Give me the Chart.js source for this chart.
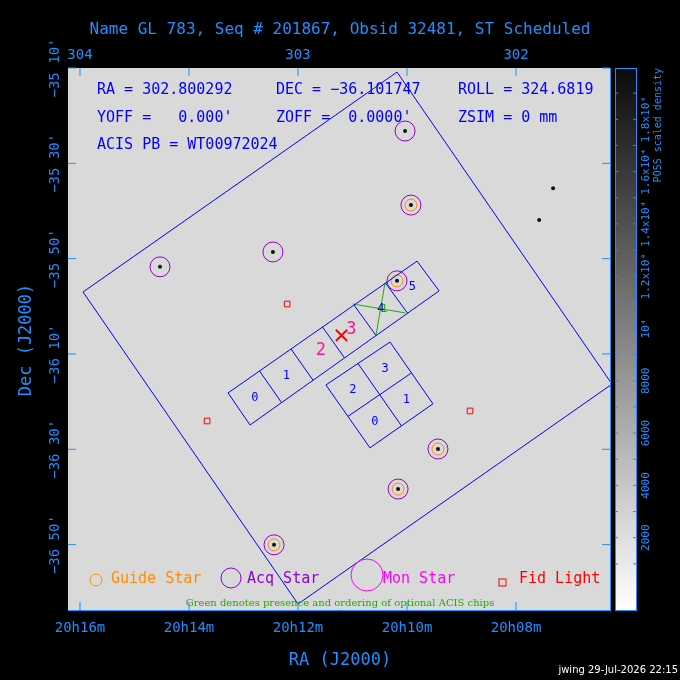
<!DOCTYPE html>
<html>
<head>
<meta charset="utf-8">
<script src="https://cdn.jsdelivr.net/npm/chart.js@4/dist/chart.umd.min.js"></script>
<style>
  body { margin: 0; background: #000; }
  canvas { display: block; }
</style>
</head>
<body>
<canvas id="sky" width="680" height="680"></canvas>
<script>
// field geometry, RA/Dec in degrees
var fieldSquare = [[303.986, -35.950], [302.546, -35.181], [301.560, -36.272], [303.000, -37.041]];
var acisS = [[303.321, -36.303], [302.454, -35.842], [302.353, -35.946], [303.220, -36.415]];
var acisI = [[302.578, -36.125], [302.381, -36.341], [302.670, -36.495], [302.872, -36.275]];
var optionalLines = [
    [[302.748, -35.992], [302.509, -36.023]],
    [[302.601, -35.918], [302.642, -36.100]]
];
var guideStars = [[302.482, -35.646], [302.546, -35.911], [302.358, -36.499], [302.541, -36.639], [303.110, -36.834]];
var acqStars = [[302.509, -35.387], [302.482, -35.646], [303.115, -35.810], [303.633, -35.862], [302.546, -35.911],
                [302.358, -36.499], [302.541, -36.639], [303.110, -36.834]];
var brightStars = [[301.830, -35.587], [301.894, -35.698]];
var fidLights = [[303.050, -35.992], [303.417, -36.401], [302.211, -36.366]];
var target = [302.800292, -36.101747];

var raTopTicks = [304, 303, 302];
var raBottomTicks = [304, 303.5, 303, 302.5, 302];
var raBottomLabels = ['20h16m', '20h14m', '20h12m', '20h10m', '20h08m'];
var decTicks = [-35.1667, -35.5, -35.8333, -36.1667, -36.5, -36.8333];
var decLabels = ["\u221235 10'", "\u221235 30'", "\u221235 50'", "\u221236 10'", "\u221236 30'", "\u221236 50'"];
var cbarValues = [2000, 4000, 6000, 8000, 10000, 12000, 14000, 16000, 18000];
var cbarLabels = ['2000', '4000', '6000', '8000', '10\u2074', '1.2x10\u2074', '1.4x10\u2074', '1.6x10\u2074', '1.8x10\u2074'];

var AXIS = '#1e90ff';
var BLUE = '#0000ff';

function pts(list) { return list.map(function(p) { return {x: p[0], y: p[1]}; }); }
function lerp(a, b, t) { return [a[0] + (b[0] - a[0]) * t, a[1] + (b[1] - a[1]) * t]; }
function lineSet(points, color) {
    return {type: 'scatter', data: pts(points), showLine: true, borderColor: color, borderWidth: 1,
            pointRadius: 0, fill: false, tension: 0};
}

var datasets = [];
datasets.push(lineSet(fieldSquare.concat([fieldSquare[0]]), BLUE));
datasets.push(lineSet(acisS.concat([acisS[0]]), BLUE));
for (var i = 1; i < 6; i++) {
    datasets.push(lineSet([lerp(acisS[0], acisS[1], i / 6), lerp(acisS[3], acisS[2], i / 6)], BLUE));
}
datasets.push(lineSet(acisI.concat([acisI[0]]), BLUE));
datasets.push(lineSet([lerp(acisI[0], acisI[1], 0.5), lerp(acisI[3], acisI[2], 0.5)], BLUE));
datasets.push(lineSet([lerp(acisI[0], acisI[3], 0.5), lerp(acisI[1], acisI[2], 0.5)], BLUE));
optionalLines.forEach(function(l) { datasets.push(lineSet(l, '#22aa00')); });
datasets.push({data: pts(acqStars.concat(brightStars)), pointRadius: 2, backgroundColor: '#111', borderWidth: 0});
datasets.push({data: pts(acqStars), pointRadius: 10, borderColor: '#9400d3', borderWidth: 1, backgroundColor: 'rgba(0,0,0,0)'});
datasets.push({data: pts(guideStars), pointRadius: 6, borderColor: '#ff8c00', borderWidth: 1, backgroundColor: 'rgba(0,0,0,0)'});
datasets.push({data: pts(fidLights), pointStyle: 'rect', pointRadius: 4, borderColor: '#ff0000', borderWidth: 1, backgroundColor: 'rgba(0,0,0,0)'});
datasets.push({data: pts([target]), pointStyle: 'crossRot', pointRadius: 8, borderColor: '#ff0000', borderWidth: 2});

function fitTo(size) { return function(s) { if (s.isHorizontal()) s.height = size; else s.width = size; }; }

var decorations = {
    id: 'decorations',
    beforeDatasetsDraw: function(chart) {
        var c = chart.ctx, a = chart.chartArea;
        c.save();
        c.fillStyle = '#d9d9d9';
        c.fillRect(a.left, a.top, a.right - a.left, a.bottom - a.top);
        c.restore();
    },
    afterDraw: function(chart) {
        var c = chart.ctx, a = chart.chartArea, x = chart.scales.x, y = chart.scales.y;
        c.save();
        c.textBaseline = 'middle';
        // title
        c.fillStyle = AXIS;
        c.font = '16px "DejaVu Sans Mono"';
        c.textAlign = 'center';
        c.fillText('Name GL 783, Seq # 201867, Obsid 32481, ST Scheduled', 340, 30);
        c.font = '14px "DejaVu Sans Mono"';
        raTopTicks.forEach(function(v) { c.fillText(String(v), x.getPixelForValue(v), 55); });
        raBottomTicks.forEach(function(v, i) { c.fillText(raBottomLabels[i], x.getPixelForValue(v), 628); });
        c.font = '17px "DejaVu Sans Mono"';
        c.fillText('RA (J2000)', 340, 661);
        // tick marks
        c.strokeStyle = AXIS; c.lineWidth = 1;
        raBottomTicks.forEach(function(v) {
            var px = x.getPixelForValue(v);
            c.beginPath(); c.moveTo(px, a.bottom); c.lineTo(px, a.bottom - 8); c.moveTo(px, a.top); c.lineTo(px, a.top + 8); c.stroke();
        });
        decTicks.forEach(function(v) {
            var py = y.getPixelForValue(v);
            c.beginPath(); c.moveTo(a.left, py); c.lineTo(a.left + 8, py); c.moveTo(a.right, py); c.lineTo(a.right - 8, py); c.stroke();
        });
        c.font = '14px "DejaVu Sans Mono"';
        decTicks.forEach(function(v, i) {
            c.save(); c.translate(55, y.getPixelForValue(v)); c.rotate(-Math.PI / 2);
            c.fillText(decLabels[i], 0, 0); c.restore();
        });
        c.save(); c.translate(27, 340); c.rotate(-Math.PI / 2);
        c.font = '17px "DejaVu Sans Mono"'; c.fillText('Dec (J2000)', 0, 0); c.restore();

        // header in plot
        c.fillStyle = BLUE; c.textAlign = 'left';
        c.font = '15px "DejaVu Sans Mono"';
        c.fillText('RA = 302.800292', 97, 90); c.fillText('DEC = \u221236.101747', 276, 90); c.fillText('ROLL = 324.6819', 458, 90);
        c.fillText("YOFF =   0.000'", 97, 118); c.fillText("ZOFF =  0.0000'", 276, 118); c.fillText('ZSIM = 0 mm', 458, 118);
        c.fillText('ACIS PB = WT00972024', 97, 145);

        // chip numbers
        c.textAlign = 'center';
        function chipText(p, txt, color, size) {
            c.fillStyle = color; c.font = size + 'px "DejaVu Sans Mono"';
            c.fillText(txt, x.getPixelForValue(p[0]), y.getPixelForValue(p[1]));
        }
        for (var k = 0; k < 6; k++) {
            var t = (k + 0.5) / 6;
            var mid = lerp(lerp(acisS[0], acisS[1], t), lerp(acisS[3], acisS[2], t), 0.5);
            if (k === 2 || k === 3) chipText(lerp(mid, acisS[1], 0.03), String(k), '#ff1493', 17);
            else chipText(mid, String(k), BLUE, 12);
        }
        var cI = lerp(acisI[0], acisI[2], 0.5);
        chipText(lerp(cI, acisI[0], 0.5), '3', BLUE, 12);
        chipText(lerp(cI, acisI[3], 0.5), '2', BLUE, 12);
        chipText(lerp(cI, acisI[1], 0.5), '1', BLUE, 12);
        chipText(lerp(cI, acisI[2], 0.5), '0', BLUE, 12);
        chipText(lerp(optionalLines[0][0], optionalLines[0][1], 0.6), '1', '#22aa00', 11);

        // legend
        c.textAlign = 'left'; c.font = '15px "DejaVu Sans Mono"';
        c.lineWidth = 1;
        c.strokeStyle = '#ff8c00'; c.beginPath(); c.arc(96, 580, 6, 0, 2 * Math.PI); c.stroke();
        c.fillStyle = '#ff8c00'; c.fillText('Guide Star', 111, 579);
        c.strokeStyle = '#9400d3'; c.beginPath(); c.arc(231, 578, 10, 0, 2 * Math.PI); c.stroke();
        c.fillStyle = '#9400d3'; c.fillText('Acq Star', 247, 579);
        c.strokeStyle = '#ff00ff'; c.beginPath(); c.arc(367, 575, 16, 0, 2 * Math.PI); c.stroke();
        c.fillStyle = '#ff00ff'; c.fillText('Mon Star', 383, 579);
        c.strokeStyle = '#ff0000'; c.strokeRect(499, 579, 7, 7);
        c.fillStyle = '#ff0000'; c.fillText('Fid Light', 519, 579);
        c.fillStyle = '#22aa00'; c.textAlign = 'center'; c.font = '10px "DejaVu Serif"';
        c.fillText('Green denotes presence and ordering of optional ACIS chips', 340, 603);

        // colour bar
        var bx = 615, bw = 21, top = 68, bot = 610;
        var g = c.createLinearGradient(0, bot, 0, top);
        g.addColorStop(0, '#ffffff'); g.addColorStop(1, '#0a0a0a');
        c.fillStyle = g; c.fillRect(bx, top, bw, bot - top);
        c.strokeStyle = AXIS; c.strokeRect(bx + 0.5, top + 0.5, bw, bot - top);
        function cbY(v) { return 590 - v / 2000 * 52.3; }
        c.fillStyle = AXIS; c.font = '11px "DejaVu Sans Mono"';
        for (var v = 1000; v < 20000; v += 1000) {
            var py = cbY(v);
            c.beginPath(); c.moveTo(bx, py); c.lineTo(bx + 3, py); c.moveTo(bx + bw, py); c.lineTo(bx + bw - 3, py); c.stroke();
        }
        cbarValues.forEach(function(val, i) {
            c.save(); c.translate(646, cbY(val)); c.rotate(-Math.PI / 2);
            c.fillText(cbarLabels[i], 0, 0); c.restore();
        });
        c.save(); c.translate(658, 68); c.rotate(-Math.PI / 2); c.textAlign = 'right';
        c.font = '10px "DejaVu Sans Mono"';
        c.fillText('POSS scaled density', 0, 0); c.restore();

        c.fillStyle = '#ffffff'; c.textAlign = 'right'; c.font = '10px "DejaVu Sans"';
        c.fillText('jwing 29-Jul-2026 22:15', 678, 670);
        c.restore();
    }
};

new Chart(document.getElementById('sky'), {
    type: 'scatter',
    data: {datasets: datasets},
    options: {
        responsive: false, animation: false, devicePixelRatio: 1,
        layout: {padding: 0},
        plugins: {legend: {display: false}, tooltip: {enabled: false}},
        scales: {
            x: {type: 'linear', position: 'bottom', reverse: true, min: 301.569, max: 304.055,
                ticks: {display: false}, grid: {display: false}, border: {color: AXIS}, afterFit: fitTo(70)},
            x2: {type: 'linear', position: 'top', reverse: true, min: 301.569, max: 304.055,
                ticks: {display: false}, grid: {display: false}, border: {color: AXIS}, afterFit: fitTo(68)},
            y: {type: 'linear', position: 'left', min: -37.062, max: -35.1667,
                ticks: {display: false}, grid: {display: false}, border: {color: AXIS}, afterFit: fitTo(68)},
            y2: {type: 'linear', position: 'right', min: -37.062, max: -35.1667,
                ticks: {display: false}, grid: {display: false}, border: {color: AXIS}, afterFit: fitTo(70)}
        }
    },
    plugins: [decorations]
});
</script>
</body>
</html>
